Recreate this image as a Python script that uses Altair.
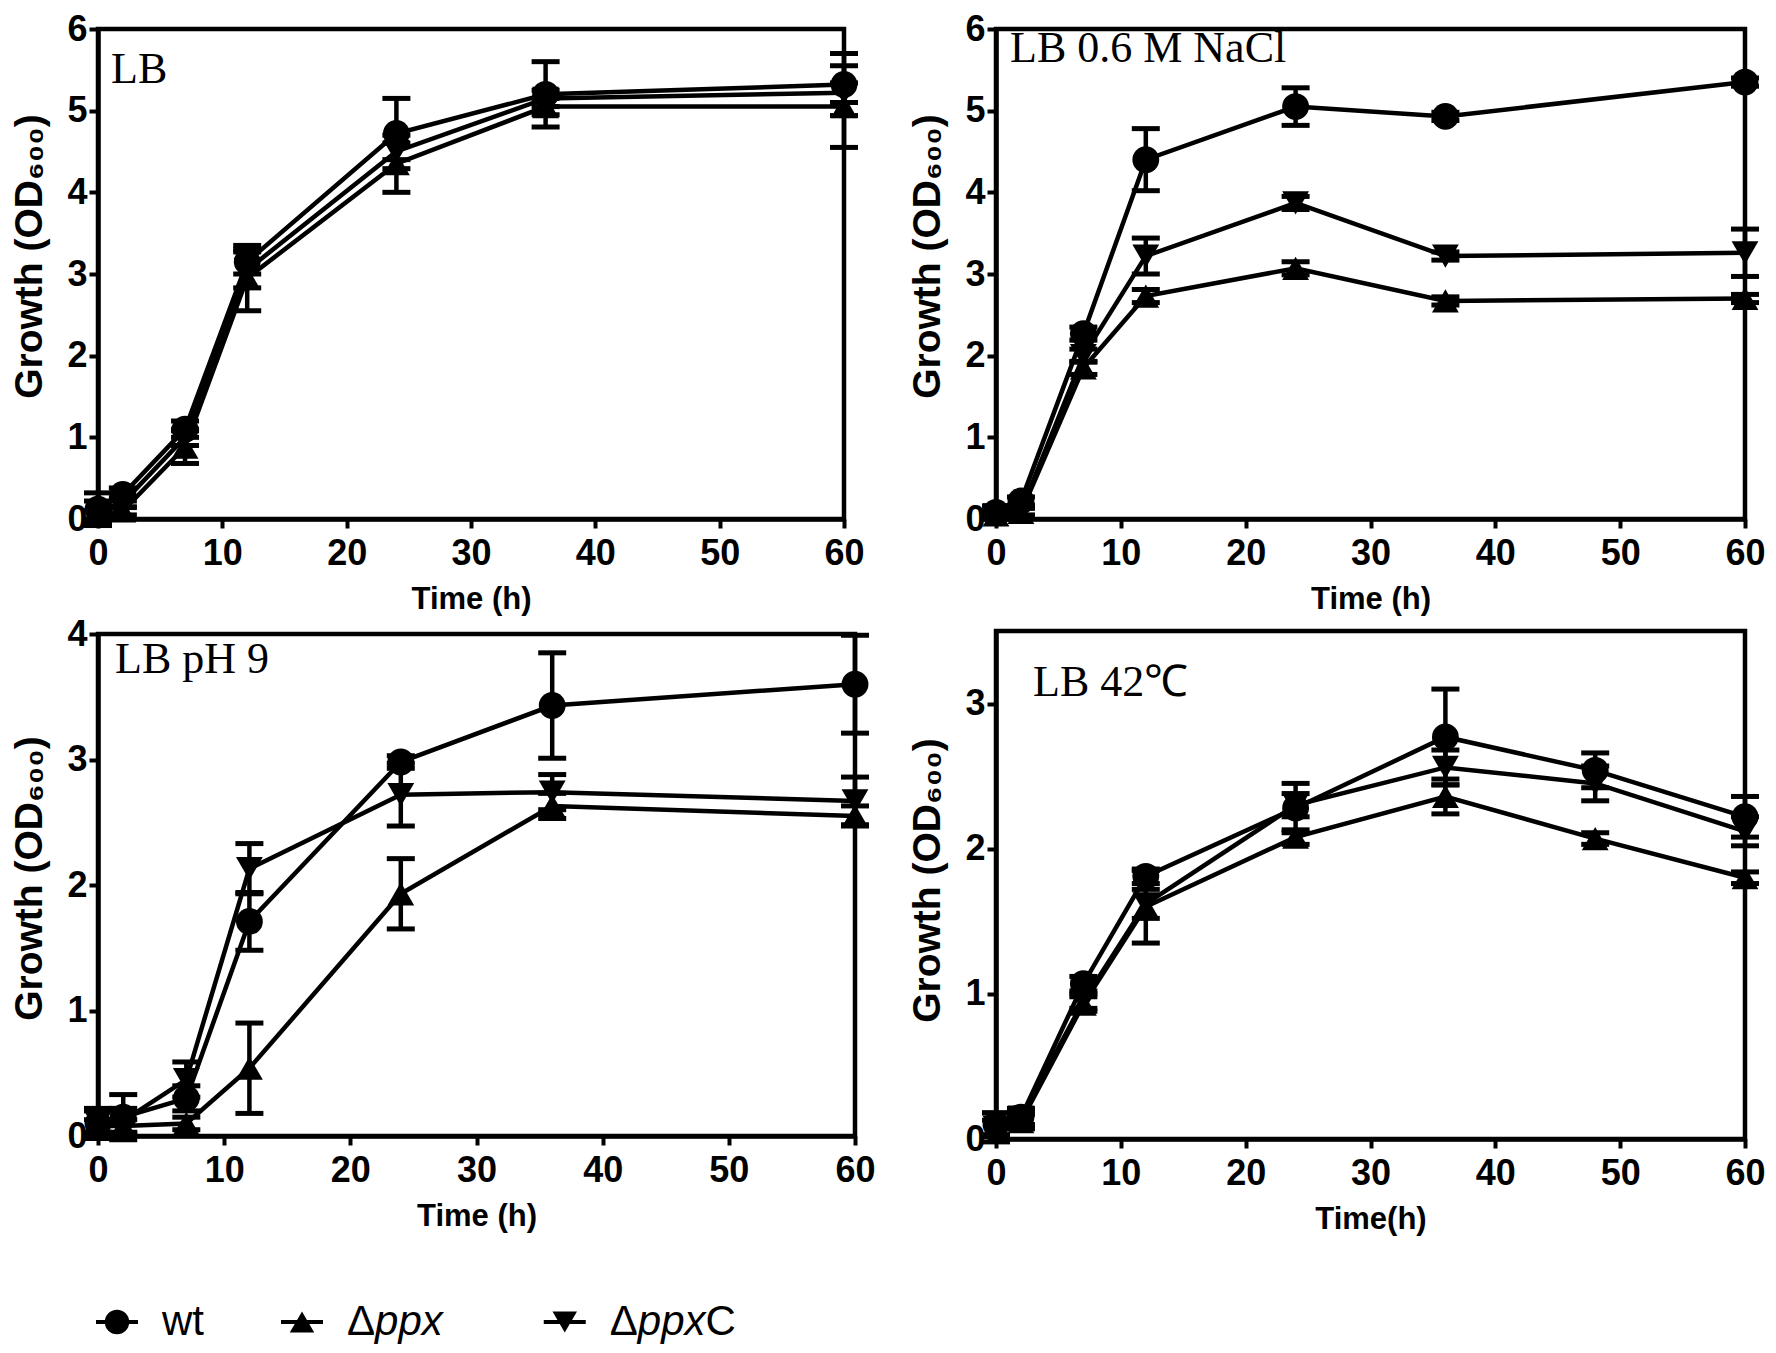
import altair as alt
import pandas as pd

# ---------------- data ----------------
TIME = [0, 2, 7, 12, 24, 36, 60]
TIME_42 = [0, 2, 7, 12, 24, 36, 48, 60]
STRAINS = ["wt", "Δppx", "ΔppxC"]
SHAPES = ["circle", "triangle-up", "triangle-down"]

# LB
LB_WT = [0.12, 0.30, 1.10, 3.15, 4.72, 5.20, 5.32]
LB_WT_SD = [0.20, 0.08, 0.10, 0.15, 0.43, 0.40, 0.38]
LB_PPX = [0.05, 0.10, 0.88, 2.95, 4.35, 5.05, 5.05]
LB_PPX_SD = [0.05, 0.05, 0.20, 0.40, 0.35, 0.10, 0.50]
LB_PPXC = [0.10, 0.20, 1.00, 3.05, 4.50, 5.15, 5.22]
LB_PPXC_SD = [0.12, 0.06, 0.10, 0.22, 0.10, 0.10, 0.12]

# LB 0.6 M NaCl
NACL_WT = [0.08, 0.22, 2.27, 4.40, 5.05, 4.93, 5.35]
NACL_WT_SD = [0.08, 0.05, 0.08, 0.38, 0.23, 0.05, 0.05]
NACL_PPX = [0.05, 0.08, 1.85, 2.73, 3.07, 2.67, 2.70]
NACL_PPX_SD = [0.05, 0.05, 0.08, 0.08, 0.08, 0.05, 0.05]
NACL_PPXC = [0.05, 0.10, 2.00, 3.22, 3.87, 3.22, 3.26]
NACL_PPXC_SD = [0.05, 0.05, 0.08, 0.22, 0.08, 0.05, 0.29]

# LB pH 9
PH_WT = [0.10, 0.15, 0.30, 1.71, 2.98, 3.43, 3.60]
PH_WT_SD = [0.10, 0.18, 0.10, 0.23, 0.05, 0.42, 0.39]
PH_PPX = [0.08, 0.08, 0.10, 0.54, 1.93, 2.63, 2.55]
PH_PPX_SD = [0.05, 0.05, 0.05, 0.36, 0.28, 0.10, 0.08]
PH_PPXC = [0.10, 0.12, 0.45, 2.13, 2.72, 2.74, 2.67]
PH_PPXC_SD = [0.12, 0.10, 0.14, 0.20, 0.25, 0.14, 0.19]

# LB 42 C
T42_WT = [0.10, 0.15, 1.07, 1.81, 2.28, 2.77, 2.54, 2.22]
T42_WT_SD = [0.08, 0.05, 0.05, 0.05, 0.17, 0.33, 0.12, 0.14]
T42_PPX = [0.08, 0.12, 0.93, 1.60, 2.08, 2.36, 2.07, 1.80]
T42_PPX_SD = [0.05, 0.05, 0.05, 0.25, 0.05, 0.12, 0.04, 0.04]
T42_PPXC = [0.08, 0.15, 0.95, 1.62, 2.30, 2.56, 2.45, 2.12]
T42_PPXC_SD = [0.10, 0.06, 0.05, 0.10, 0.08, 0.12, 0.12, 0.10]

PANEL_NAMES = ["LB", "LB 0.6 M NaCl", "LB pH 9", "LB 42℃"]
X_TICKS = [0, 10, 20, 30, 40, 50, 60]

# legend text parts (normal / italic / normal)
LEG_PREFIX = ["wt", "Δ", "Δ"]
LEG_ITALIC = ["", "ppx", "ppx"]
LEG_SUFFIX = ["", "", "C"]

SANS = "Liberation Sans, Arial, Helvetica, sans-serif"
SERIF = "Liberation Serif, Times New Roman, serif"
YTITLE = "Growth (OD₆₀₀)"


def make_df(times, means, sds):
    rows = []
    for s, m, sd in zip(STRAINS, means, sds):
        for t, v, e in zip(times, m, sd):
            rows.append({"strain": s, "t": t, "v": v, "lo": v - e, "hi": v + e})
    return pd.DataFrame(rows)


def panel(name, times, means, sds, ymax, yvals, width, height, lab_x, lab_y, xtitle,
          title_shift):
    df = make_df(times, means, sds)
    xs = alt.Scale(domain=[0, 60], nice=False)
    ys = alt.Scale(domain=[0, ymax], nice=False)
    xax = alt.Axis(values=X_TICKS, title=xtitle, labelFlush=False, labelOverlap=False,
                   format="d")
    yax = alt.Axis(values=yvals, title=YTITLE, labelOverlap=False, format="d",
                   titleY=height / 2 + title_shift)
    base = alt.Chart(df)
    bars = base.mark_rule(color="black", strokeWidth=4.5).encode(
        x=alt.X("t:Q", scale=xs, axis=xax),
        y=alt.Y("lo:Q", scale=ys, axis=yax),
        y2="hi:Q",
    )
    cap_hi = base.mark_tick(color="black", opacity=1, orient="horizontal", size=28,
                            thickness=5).encode(x="t:Q", y="hi:Q")
    cap_lo = base.mark_tick(color="black", opacity=1, orient="horizontal", size=28,
                            thickness=5).encode(x="t:Q", y="lo:Q")
    lines = base.mark_line(color="black", strokeWidth=4.5).encode(
        x="t:Q", y="v:Q", detail="strain:N"
    )
    pts = base.mark_point(filled=True, color="black", opacity=1, size=720).encode(
        x="t:Q",
        y="v:Q",
        shape=alt.Shape("strain:N", scale=alt.Scale(domain=STRAINS, range=SHAPES), legend=None),
    )
    lab = alt.Chart(pd.DataFrame({"label": [name]})).mark_text(
        font=SERIF, fontSize=44, align="left", baseline="alphabetic", color="black"
    ).encode(x=alt.value(lab_x), y=alt.value(lab_y), text="label:N")
    return alt.layer(bars, cap_hi, cap_lo, lines, pts, lab).properties(width=width, height=height)


p1 = panel(PANEL_NAMES[0], TIME, [LB_WT, LB_PPX, LB_PPXC], [LB_WT_SD, LB_PPX_SD, LB_PPXC_SD],
           6, [0, 1, 2, 3, 4, 5, 6], 746, 490, 13, 54, "Time (h)", -18)
p2 = panel(PANEL_NAMES[1], TIME, [NACL_WT, NACL_PPX, NACL_PPXC],
           [NACL_WT_SD, NACL_PPX_SD, NACL_PPXC_SD],
           6, [0, 1, 2, 3, 4, 5, 6], 749, 490, 14, 33, "Time (h)", -18)
p3 = panel(PANEL_NAMES[2], TIME, [PH_WT, PH_PPX, PH_PPXC], [PH_WT_SD, PH_PPX_SD, PH_PPXC_SD],
           4, [0, 1, 2, 3, 4], 757, 502, 17, 39, "Time (h)", -7)
p4 = panel(PANEL_NAMES[3], TIME_42, [T42_WT, T42_PPX, T42_PPXC],
           [T42_WT_SD, T42_PPX_SD, T42_PPXC_SD],
           3.5, [0, 1, 2, 3], 749, 508, 37, 65, "Time(h)", -5)

# ---------------- custom legend ----------------
FS_LEG = 42
CHAR_W = {"w": 0.722, "t": 0.278, "Δ": 0.668, "p": 0.556, "x": 0.5, "C": 0.722}


def text_w(s):
    return sum(CHAR_W.get(c, 0.55) for c in s) * FS_LEG


SYM_TO_TEXT = 45
GAPS = [98, 122, 0]
leg_rows = []
pos = 19
for i, s in enumerate(STRAINS):
    full = LEG_PREFIX[i] + LEG_ITALIC[i] + LEG_SUFFIX[i]
    leg_rows.append({"strain": s, "lx": pos, "prefix": LEG_PREFIX[i],
                     "italic": LEG_ITALIC[i], "suffix": LEG_SUFFIX[i]})
    pos = pos + SYM_TO_TEXT + text_w(full) + GAPS[i]
leg_df = pd.DataFrame(leg_rows)
LW, LH = 800, 100
lx = alt.X("lx:Q", scale=alt.Scale(domain=[0, LW], nice=False), axis=None)
ly = alt.value(82)
lbase = alt.Chart(leg_df)
l_line = lbase.mark_tick(color="black", opacity=1, orient="horizontal", size=42,
                         thickness=4).encode(x=lx, y=ly)
l_pts = lbase.mark_point(filled=True, color="black", opacity=1, size=600).encode(
    x=lx, y=ly,
    shape=alt.Shape("strain:N", scale=alt.Scale(domain=STRAINS, range=SHAPES), legend=None),
)
l_t1 = lbase.mark_text(font=SANS, fontSize=FS_LEG, align="left", baseline="middle",
                       dx=SYM_TO_TEXT, color="black").encode(x=lx, y=ly, text="prefix:N")
pw = CHAR_W["Δ"] * FS_LEG
l_t2 = lbase.transform_filter("datum.italic != ''").mark_text(
    font=SANS, fontSize=FS_LEG, fontStyle="italic", align="left", baseline="middle",
    dx=SYM_TO_TEXT + pw, color="black").encode(x=lx, y=ly, text="italic:N")
iw = (CHAR_W["p"] * 2 + CHAR_W["x"]) * FS_LEG
l_t3 = lbase.transform_filter("datum.suffix != ''").mark_text(
    font=SANS, fontSize=FS_LEG, align="left", baseline="middle",
    dx=SYM_TO_TEXT + pw + iw, color="black").encode(x=lx, y=ly, text="suffix:N")
legend = alt.layer(l_line, l_pts, l_t1, l_t2, l_t3).properties(
    width=LW, height=LH, view=alt.ViewBackground(stroke="transparent")
)

col1 = alt.vconcat(p1, p3, spacing=-4)
col2 = alt.vconcat(p2, p4, spacing=11)
grid = alt.hconcat(col1, col2, spacing=28)
chart = alt.vconcat(grid, legend, spacing=0).properties(
    padding={"left": 0, "top": 0, "right": 0, "bottom": 0}, background="white"
).configure_view(
    stroke="black", strokeWidth=4.5
).configure_axis(
    labelFont=SANS, labelFontWeight="bold", labelFontSize=36, labelColor="black",
    titleFont=SANS, titleFontWeight="bold", titleColor="black",
    domainColor="black", domainWidth=4.5, tickColor="black", tickWidth=4, tickSize=9,
    grid=False,
).configure_axisX(
    labelPadding=8, titleFontSize=31, titlePadding=13
).configure_axisY(
    labelPadding=2, titleFontSize=39, titlePadding=17
)

chart.save("out.html", embed_options={"renderer": "svg", "actions": False})
